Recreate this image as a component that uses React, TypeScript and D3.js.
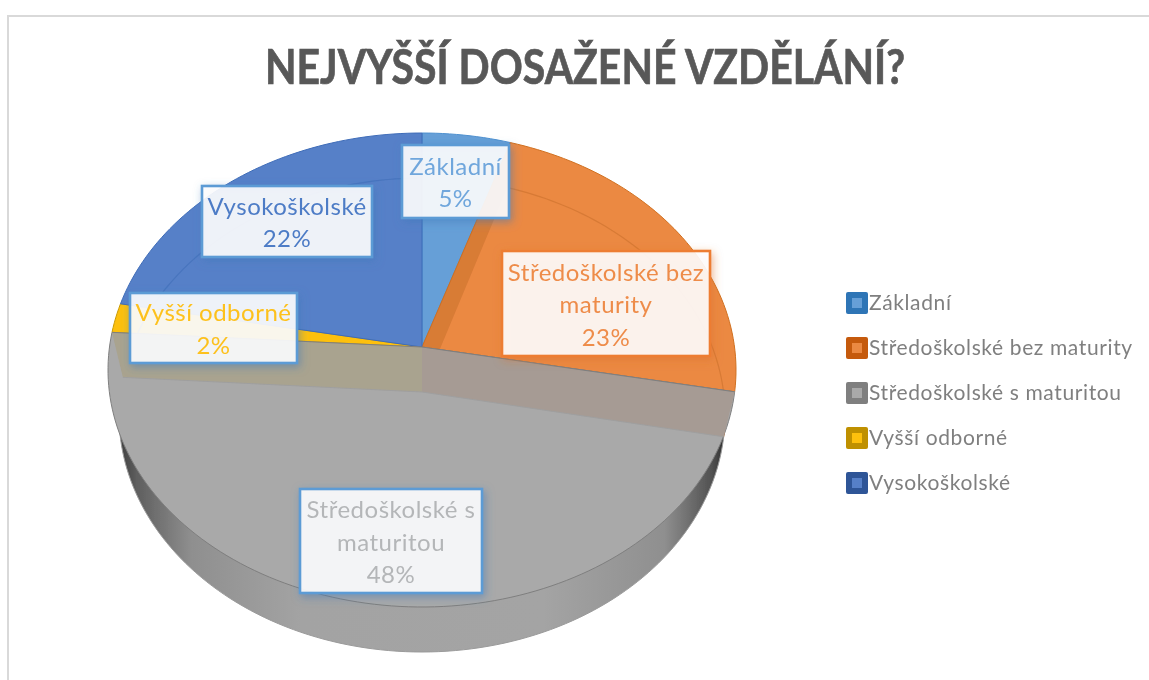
import React from "react";
import * as d3 from "d3";

const title = "NEJVYŠŠÍ DOSAŽENÉ VZDĚLÁNÍ?";
const categories = ["Základní", "Středoškolské bez maturity", "Středoškolské s maturitou", "Vyšší odborné", "Vysokoškolské"];
const shares = [5, 23, 48, 2, 22];
const labelLines = [["Základní"], ["Středoškolské bez", "maturity"], ["Středoškolské s", "maturitou"], ["Vyšší odborné"], ["Vysokoškolské"]];

const fills = ["#669fd7", "#eb8943", "#a9a9a9", "#fdc00f", "#5680c8"];
const strokes = ["#4e90cf", "#d0701f", "#7f7f7f", "#c99a06", "#3f6cb8"];
const textColors = ["#6fa6dc", "#ee8c4a", "#b4b6b8", "#fdc11e", "#4d7cc6"];
const swatchOuter = ["#2e75b6", "#c55a11", "#7f7f7f", "#bf9000", "#2f5597"];
const boxStroke = ["#5b9bd5", "#ed7d31", "#5b9bd5", "#5b9bd5", "#5b9bd5"];
const boxes = [
  [402, 145, 107, 73],
  [502, 251, 208, 105],
  [300, 489, 182, 104],
  [130, 293, 167, 70],
  [202, 186, 170, 71],
];

const CX = 422, TOP_CY = 370, BOT_CY = 415, RX = 314, RY = 237, RX_B = 303, T = 23 / 237;

// Perspective map: pie angle on a unit disc to a point on the tilted ellipse.
function project(a: number, r: number, cy: number, rx: number) {
  const u = r * Math.sin(a), v = r * Math.cos(a);
  const d = 1 + T * v;
  const vv = (v + T) / d;
  const uu = (u * Math.sqrt(1 - T * T)) / d;
  return [CX + rx * uu, cy - RY * vv] as [number, number];
}
const topP = (a: number, r = 1) => project(a, r, TOP_CY, RX);
const lowP = (a: number, r = 1) => project(a, r, BOT_CY, RX_B);
const line = d3.line();
const rim = (a0: number, a1: number, f: (a: number) => [number, number]) => {
  const n = Math.max(2, Math.ceil(Math.abs(a1 - a0) * 40));
  return d3.range(n + 1).map((i) => f(a0 + ((a1 - a0) * i) / n));
};

const arcs = d3.pie<number>().sort(null)(shares);

export default function App() {
  const centerT = topP(0, 0), centerL = lowP(0, 0);
  const gray = arcs[2];
  const orange = arcs[1];
  const blue = arcs[4];
  const bottomEllipse = line(rim(0, Math.PI * 2, lowP))! + "Z";
  const grayLeft = [topP(gray.endAngle), centerT, centerL, lowP(gray.endAngle)] as [number, number][];
  const grayRight = [topP(gray.startAngle), centerT, centerL, lowP(gray.startAngle)] as [number, number][];
  const orangeFold = [centerT, centerL, lowP(orange.startAngle), topP(orange.startAngle)] as [number, number][];
  return (
    <svg width={1149} height={680} style={{ position: "absolute", left: 0, top: 0, background: "#fff" }}>
      <defs>
        <linearGradient id="wall" x1="0" x2="1" y1="0" y2="0">
          <stop offset="0" stopColor="#3d3d3d" />
          <stop offset="0.03" stopColor="#5f5f5f" />
          <stop offset="0.12" stopColor="#8f8f8f" />
          <stop offset="0.3" stopColor="#a3a3a3" />
          <stop offset="0.7" stopColor="#a4a4a4" />
          <stop offset="0.9" stopColor="#8f8f8f" />
          <stop offset="0.98" stopColor="#505050" />
          <stop offset="1" stopColor="#2e2e2e" />
        </linearGradient>
        <filter id="soft0" x="-20%" y="-20%" width="140%" height="140%">
          <feDropShadow dx="2" dy="3" stdDeviation="4" floodColor="#3f78b8" floodOpacity="0.55" />
        </filter>
        <filter id="soft1" x="-20%" y="-20%" width="140%" height="140%">
          <feDropShadow dx="2" dy="3" stdDeviation="4" floodColor="#d9702a" floodOpacity="0.5" />
        </filter>
        <filter id="blur"><feGaussianBlur stdDeviation="0.45" /></filter>
      </defs>
      <g filter="url(#blur)">
        <path d="M8 680V16H1149" fill="none" stroke="#d9d9d9" strokeWidth={2} />
        <text x={585} y={84} textAnchor="middle" fontFamily="Lato" fontWeight={700} fontSize={47} textLength={640} lengthAdjust="spacingAndGlyphs" fill="#595959" stroke="#595959" strokeWidth={0.7}>{title}</text>

        <path d={bottomEllipse} fill="url(#wall)" stroke="#9a9a9a" strokeWidth={1} />
        {arcs.map((a, i) => (
          <path
            key={i}
            d={line([centerT, ...rim(a.startAngle, a.endAngle, topP)])! + "Z"}
            fill={fills[i]}
            stroke={strokes[i]}
            strokeWidth={1}
          />
        ))}
        <path d={line(orangeFold)! + "Z"} fill="#c96f2c" opacity={0.55} />
        <path d={line(rim(orange.startAngle, orange.endAngle, lowP))!} fill="none" stroke="#c96f2c" strokeWidth={1.2} opacity={0.6} />
        <path d={line(rim(blue.startAngle + 0.05, blue.endAngle, lowP))!} fill="none" stroke="#3f6cb8" strokeWidth={1.2} opacity={0.6} />
        <path d={line(grayLeft)! + "Z"} fill="#a9a38f" />
        <path d={line(grayRight)! + "Z"} fill="#a69b94" />
        <path d={line([grayLeft[0], centerT, grayRight[0]])!} fill="none" stroke="#7f7f7f" strokeWidth={1} />
        <path d={line([grayLeft[3], centerL, grayRight[3]])!} fill="none" stroke="#9f9f9f" strokeWidth={1} />

        {boxes.map(([x, y, w, h], i) => {
          const lines = [...labelLines[i], `${shares[i]}%`];
          const first = y + h / 2 - ((lines.length - 1) * 32.5) / 2 + 9.5;
          return (
            <g key={i}>
              <rect x={x} y={y} width={w} height={h} fill="#fff" fillOpacity={0.88} stroke={boxStroke[i]} strokeWidth={2.6} filter={`url(#soft${i === 1 ? 1 : 0})`} />
              {lines.map((t, j) => (
                <text key={j} x={x + w / 2} y={first + j * 32.5} textAnchor="middle" fontFamily="Lato" fontSize={24} letterSpacing={0.5} fill={textColors[i]}>{t}</text>
              ))}
            </g>
          );
        })}

        {categories.map((c, i) => {
          const y = d3.scaleLinear().domain([0, 4]).range([303, 483])(i);
          return (
            <g key={c}>
              <rect x={846} y={y - 11} width={22} height={22} rx={2} fill={swatchOuter[i]} />
              <rect x={852} y={y - 5} width={10} height={10} fill={fills[i]} />
              <text x={869} y={y + 7} fontFamily="Lato" fontSize={21} letterSpacing={0.62} fill="#7f7f7f">{c}</text>
            </g>
          );
        })}
      </g>
    </svg>
  );
}
